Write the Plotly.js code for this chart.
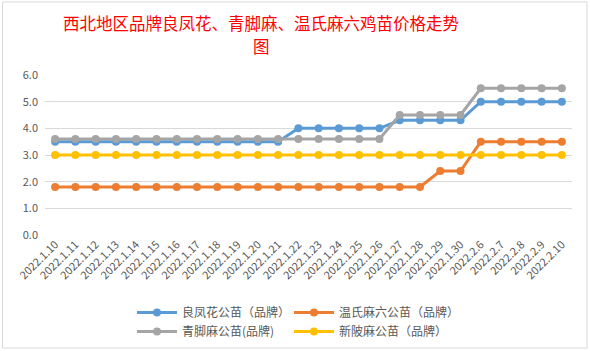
<!DOCTYPE html>
<html>
<head>
<meta charset="utf-8">
<script src="https://cdn.plot.ly/plotly-3.0.1.min.js"></script>
<style>
html,body{margin:0;padding:0;background:#fff;}
#chart{width:590px;height:351px;}
</style>
</head>
<body>
<div id="chart"></div>
<script>
var categories = ["2022.1.10","2022.1.11","2022.1.12","2022.1.13","2022.1.14","2022.1.15","2022.1.16","2022.1.17","2022.1.18","2022.1.19","2022.1.20","2022.1.21","2022.1.22","2022.1.23","2022.1.24","2022.1.25","2022.1.26","2022.1.27","2022.1.28","2022.1.29","2022.1.30","2022.2.6","2022.2.7","2022.2.8","2022.2.9","2022.2.10"];
var seriesNames = ["良凤花公苗（品牌）","温氏麻六公苗（品牌）","青脚麻公苗(品牌)","新陂麻公苗（品牌）"];
var titleLines = ["西北地区品牌良凤花、青脚麻、温氏麻六鸡苗价格走势","图"];
var liangfenghua = [3.5,3.5,3.5,3.5,3.5,3.5,3.5,3.5,3.5,3.5,3.5,3.5,4.0,4.0,4.0,4.0,4.0,4.3,4.3,4.3,4.3,5.0,5.0,5.0,5.0,5.0];
var wenshima = [1.8,1.8,1.8,1.8,1.8,1.8,1.8,1.8,1.8,1.8,1.8,1.8,1.8,1.8,1.8,1.8,1.8,1.8,1.8,2.4,2.4,3.5,3.5,3.5,3.5,3.5];
var qingjiaoma = [3.6,3.6,3.6,3.6,3.6,3.6,3.6,3.6,3.6,3.6,3.6,3.6,3.6,3.6,3.6,3.6,3.6,4.5,4.5,4.5,4.5,5.5,5.5,5.5,5.5,5.5];
var xinbeima = [3.0,3.0,3.0,3.0,3.0,3.0,3.0,3.0,3.0,3.0,3.0,3.0,3.0,3.0,3.0,3.0,3.0,3.0,3.0,3.0,3.0,3.0,3.0,3.0,3.0,3.0];
var colors = ["#5B9BD5","#ED7D31","#A5A5A5","#FFC000"];
var allValues = [liangfenghua, wenshima, qingjiaoma, xinbeima];
var legendIds = ["legend","legend2","legend","legend2"];

var traces = allValues.map(function(v,i){
  return {
    x: categories, y: v, name: seriesNames[i], type: 'scatter', mode: 'lines+markers',
    line: {color: colors[i], width: 3},
    marker: {color: colors[i], size: 8},
    legend: legendIds[i],
    hoverinfo: 'skip'
  };
});

var font = '"Noto Sans CJK SC", "Noto Sans", sans-serif';
// plot area: x 45..572, y 75..235
function px2x(p){ return (p-45)/527; }
function py2y(p){ return (235-p)/160; }
function legendCfg(leftPx){
  return {
    orientation: 'v', x: px2x(leftPx), xanchor: 'left', y: py2y(298), yanchor: 'top',
    font: {family: font, size: 12, color: '#595959'},
    itemwidth: 40, tracegroupgap: 0, bgcolor: 'rgba(0,0,0,0)'
  };
}
var layout = {
  width: 590, height: 351,
  margin: {l: 45, r: 18, t: 75, b: 116, autoexpand: false},
  paper_bgcolor: '#ffffff', plot_bgcolor: '#ffffff',
  font: {family: font, color: '#595959', size: 11},
  xaxis: {
    type: 'category', range: [-0.5, 25.5], tickangle: -45,
    showgrid: false, zeroline: false, showline: false, ticks: '',
    tickfont: {family: font, size: 11, color: '#595959'}, automargin: false
  },
  yaxis: {
    range: [0, 6], dtick: 1, tickformat: '.1f',
    showgrid: true, gridcolor: '#d9d9d9', gridwidth: 1, zeroline: false,
    showline: false, ticks: '', ticklabelstandoff: 6,
    tickfont: {family: font, size: 11, color: '#595959'}, automargin: false
  },
  showlegend: true,
  legend: legendCfg(132),
  legend2: legendCfg(289),
  annotations: titleLines.map(function(t,i){
    return {
      text: t, xref: 'paper', yref: 'paper', x: px2x(261), y: py2y(i === 0 ? 23 : 45.5),
      xanchor: 'center', yanchor: 'middle', showarrow: false,
      font: {family: font, color: '#ff0000', size: 16.5}
    };
  }),
  shapes: [{
    type: 'rect', xref: 'paper', yref: 'paper',
    x0: px2x(2.5), x1: px2x(587), y0: py2y(348), y1: py2y(2),
    line: {color: '#d9d9d9', width: 1}, fillcolor: 'rgba(0,0,0,0)', layer: 'below'
  }]
};
Plotly.newPlot('chart', traces, layout, {staticPlot: true, displayModeBar: false});
</script>
</body>
</html>
